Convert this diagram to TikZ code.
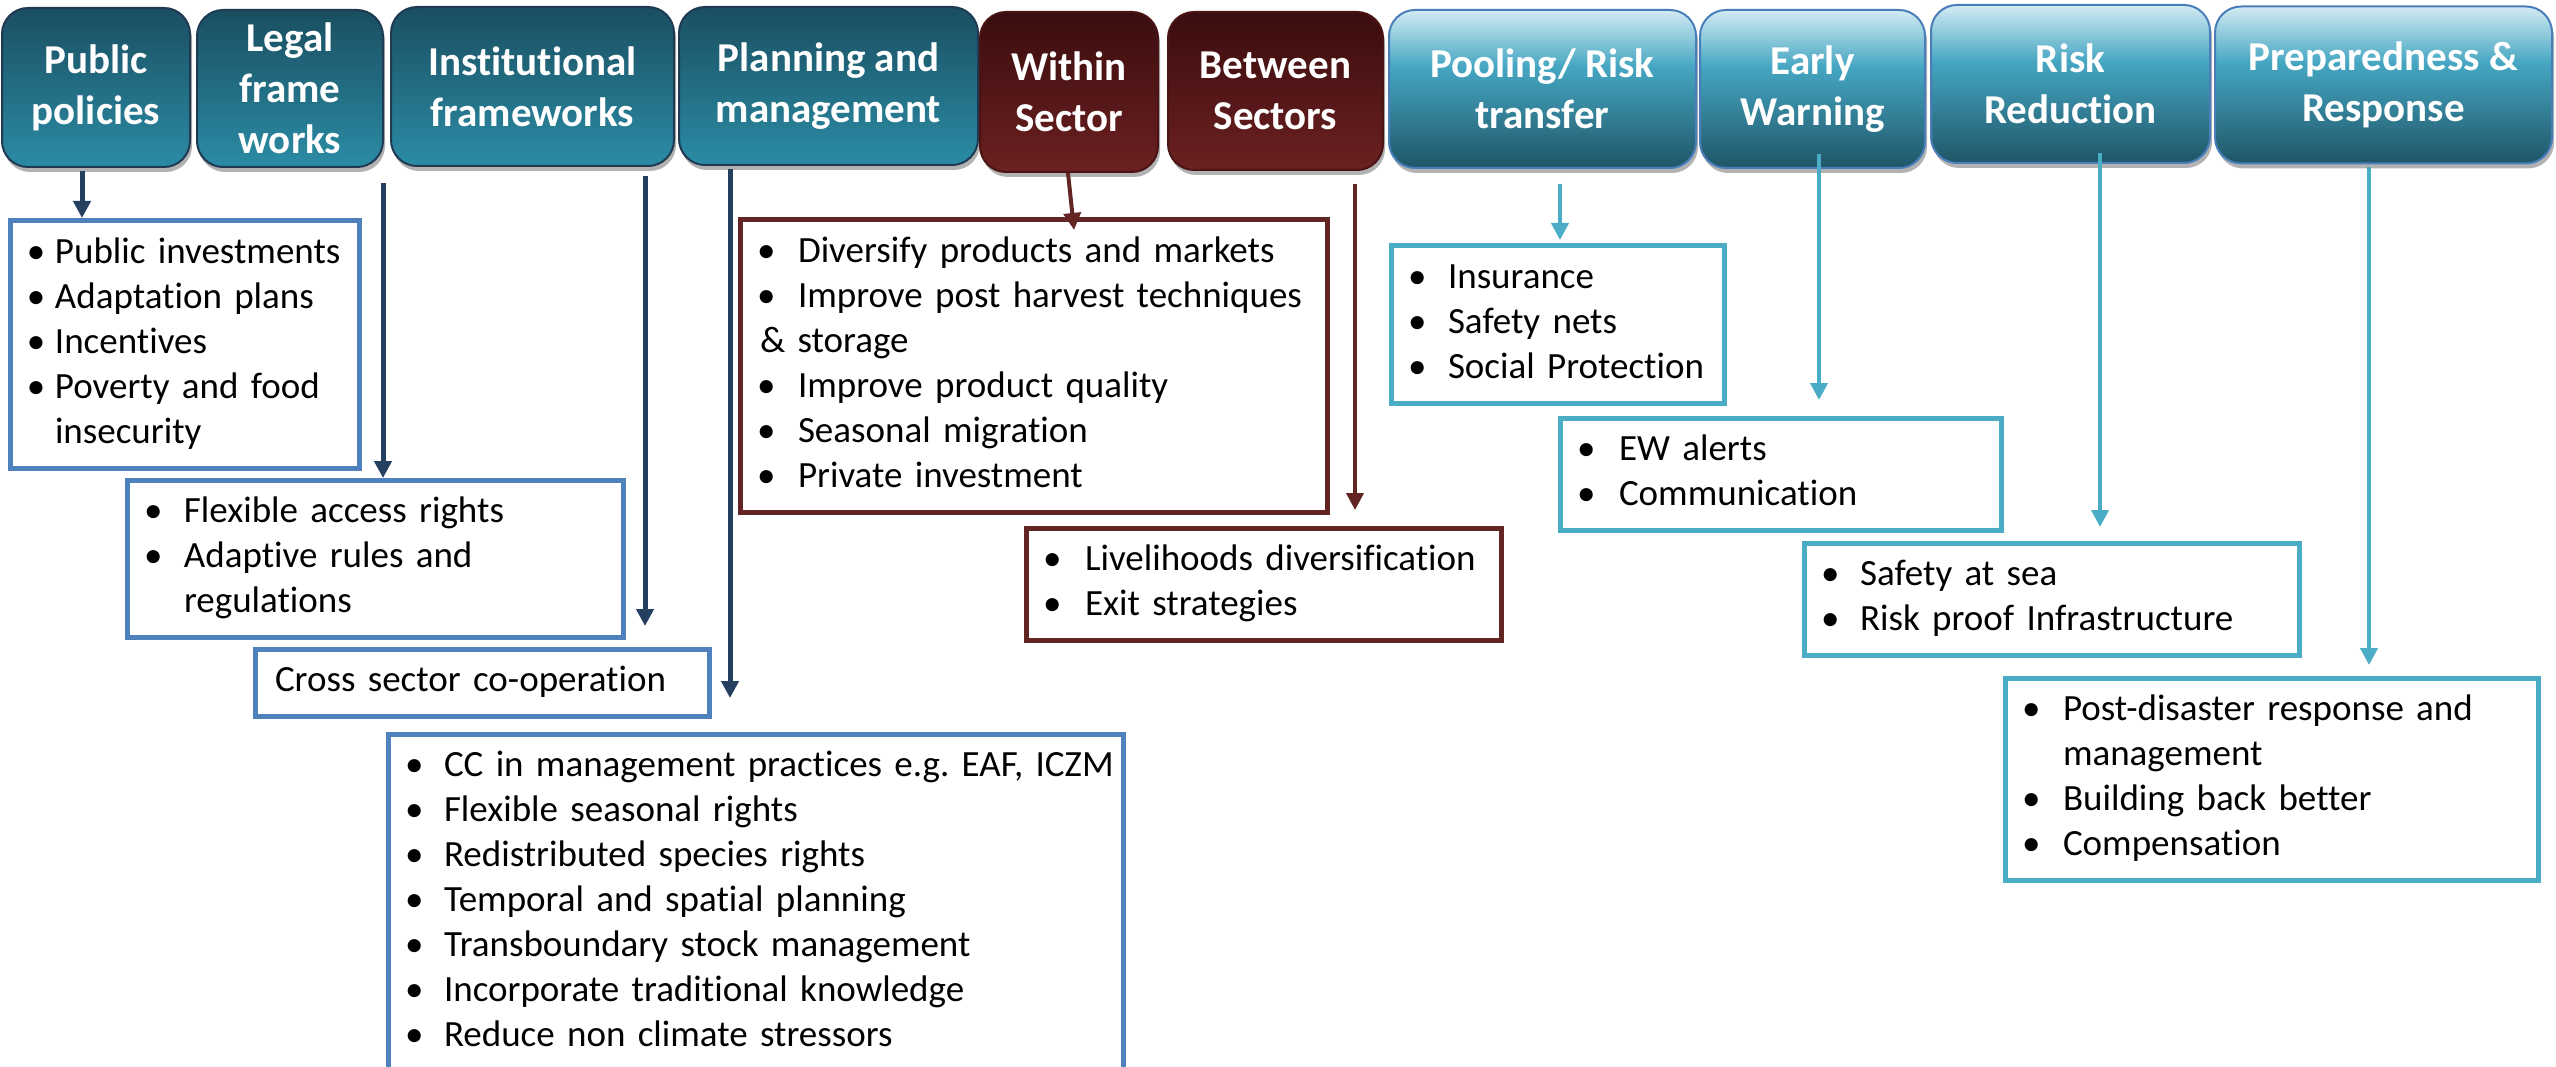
\documentclass[tikz,border=0pt]{standalone}
\usepackage{fontspec}
\setmainfont{Carlito}[Ligatures={NoCommon,NoRare}]
\frenchspacing
\usetikzlibrary{arrows.meta,shadows}
\definecolor{hdTop}{HTML}{1A4E61}
\definecolor{hdBot}{HTML}{2B8CA5}
\definecolor{hdLine}{HTML}{1F3A52}
\definecolor{rdTop}{HTML}{3A0D0E}
\definecolor{rdBot}{HTML}{6C2021}
\definecolor{rdLine}{HTML}{4A1414}
\definecolor{ltTop}{HTML}{D3EBF3}
\definecolor{ltMid}{HTML}{45A6C2}
\definecolor{ltBot}{HTML}{1F5567}
\definecolor{ltLine}{HTML}{4A7EBB}
\definecolor{navy}{HTML}{243F60}
\definecolor{boxBlue}{HTML}{4F81BD}
\definecolor{wine}{HTML}{632523}
\definecolor{aqua}{HTML}{4BACC6}
\pgfdeclareverticalshading{ltshade}{100bp}{color(0bp)=(ltBot); color(25bp)=(ltBot); color(57bp)=(ltMid); color(75bp)=(ltTop); color(100bp)=(ltTop)}
% first item (continues the paragraph TikZ opens), later items
\newcommand\fitm[2]{\hangindent=#1\hangafter=1\makebox[#1][l]{\hspace{-3pt}•}\strut\mbox{#2}\strut}
\newcommand\itm[2]{\par\noindent\fitm{#1}{#2}}
\tikzset{
  hdrbase/.style={rounded corners=26pt, line width=2pt, text=white,
    font=\fontsize{41}{51}\selectfont\bfseries, align=center, inner sep=0pt,
    drop shadow={shadow xshift=2pt, shadow yshift=-5pt, opacity=0.3, fill=black}},
  tealhdr/.style={hdrbase, draw=hdLine, top color=hdTop, bottom color=hdBot},
  redhdr/.style={hdrbase, draw=rdLine, top color=rdTop, bottom color=rdBot},
  lighthdr/.style={hdrbase, draw=ltLine, shade, shading=ltshade},
  hsz/.style 2 args={minimum width=#1pt, minimum height=#2pt},
  lbox/.style={draw, line width=5pt, fill=white, anchor=north west, outer sep=0pt,
    inner xsep=20pt, inner ysep=11pt, font=\fontsize{37}{45}\selectfont, align=left},
  bluebox/.style={lbox, draw=boxBlue},
  redbox/.style={lbox, draw=wine},
  aquabox/.style={lbox, draw=aqua},
  arr/.style={line width=5pt, -{Triangle[length=17pt,width=17pt]}},
  navyarr/.style={arr, draw=navy},
  winearr/.style={arr, line width=4pt, draw=wine},
  aquaarr/.style={arr, line width=4pt, draw=aqua},
}
\begin{document}
\begin{tikzpicture}[x=1pt,y=-1pt]
\clip (0,0) rectangle (2556,1067);
\fill[white] (0,0) rectangle (2556,1067);
% headers
\node[tealhdr, hsz={188}{159}] (pubHdr) at (96,87.5) {Public\\policies};
\node[tealhdr, hsz={186}{157}] (legHdr) at (290,88.5) {Legal\\frame\\works};
\node[tealhdr, hsz={283}{159}] (insHdr) at (532.5,86.5) {Institutional\\frameworks};
\node[tealhdr, hsz={299}{158}] (plnHdr) at (828.5,86) {Planning and\\management};
\node[redhdr, hsz={178}{160}] (wthHdr) at (1069,92) {Within\\Sector};
\node[redhdr, hsz={215}{158}] (btwHdr) at (1275.5,91) {Between\\Sectors};
\node[lighthdr, hsz={307}{158}] (polHdr) at (1542.5,89) {Pooling/ Risk\\transfer};
\node[lighthdr, hsz={225}{158}] (ewHdr) at (1812.5,89) {Early\\Warning};
\node[lighthdr, hsz={279}{158}] (rrHdr) at (2070.5,84) {Risk\\Reduction};
\node[lighthdr, hsz={337}{157}] (prpHdr) at (2383.5,85) {Preparedness \&\\Response};
% boxes
\node[bluebox, text width=309pt] (pubBox) at (10,221) {%
\fitm{25pt}{Public investments}\itm{25pt}{Adaptation plans}\itm{25pt}{Incentives}%
\itm{25pt}{Poverty and food}\newline\mbox{\strut insecurity}\strut\par};
\node[bluebox, text width=456pt] (legBox) at (127,480) {%
\fitm{37pt}{Flexible access rights}\itm{37pt}{Adaptive rules and}\newline\mbox{\strut regulations}\strut\par};
\node[bluebox, text width=414pt] (insBox) at (255,649) {\strut Cross sector co-operation\strut\par};
\node[bluebox, text width=695pt] (plnBox) at (388,734) {%
\fitm{36pt}{CC in management practices e.g. EAF, ICZM}\itm{36pt}{Flexible seasonal rights}%
\itm{36pt}{Redistributed species rights}\itm{36pt}{Temporal and spatial planning}%
\itm{36pt}{Transboundary stock management}\itm{36pt}{Incorporate traditional knowledge}%
\itm{36pt}{Reduce non climate stressors}\par\vspace{40pt}};
\node[redbox, text width=547pt] (wthBox) at (740,220) {%
\fitm{38pt}{Diversify products and markets}\itm{38pt}{Improve post harvest techniques}%
\par\noindent\strut\& storage\strut
\itm{38pt}{Improve product quality}\itm{38pt}{Seasonal migration}\itm{38pt}{Private investment}\par};
\node[redbox, text width=435pt] (btwBox) at (1026,528) {%
\fitm{39pt}{Livelihoods diversification}\itm{39pt}{Exit strategies}\par};
\node[aquabox, text width=293pt] (polBox) at (1391,246) {%
\fitm{37pt}{Insurance}\itm{37pt}{Safety nets}\itm{37pt}{Social Protection}\par};
\node[aquabox, text width=401pt] (ewBox) at (1560,418) {%
\fitm{39pt}{EW alerts}\itm{39pt}{Communication}\par};
\node[aquabox, text width=455pt] (rrBox) at (1804,543) {%
\fitm{36pt}{Safety at sea}\itm{36pt}{Risk proof Infrastructure}\par};
\node[aquabox, text width=493pt] (prpBox) at (2005,678) {%
\fitm{38pt}{Post-disaster response and}\newline\mbox{\strut management}\strut
\itm{38pt}{Building back better}\itm{38pt}{Compensation}\par};
% arrow columns
\coordinate (pubX) at (82,0);
\coordinate (legX) at (383,0);
\coordinate (insX) at (645,0);
\coordinate (plnX) at (730,0);
\coordinate (wthA) at (1068,0);
\coordinate (wthB) at (1073,0);
\coordinate (btwX) at (1355,0);
\coordinate (polX) at (1560,0);
\coordinate (ewX) at (1819,0);
\coordinate (rrX) at (2100,0);
\coordinate (prpX) at (2369,0);
% connectors
\draw[navyarr, shorten <=3pt, shorten >=3pt] (pubHdr.south -| pubX) -- (pubBox.north -| pubX);
\draw[navyarr, shorten <=15pt, shorten >=2pt] (legHdr.south -| legX) -- (legBox.north -| legX);
\draw[navyarr, shorten <=9pt, shorten >=23pt] (insHdr.south -| insX) -- (insBox.north -| insX);
\draw[navyarr, shorten <=3pt, shorten >=36pt] (plnHdr.south -| plnX) -- (plnBox.north -| plnX);
\draw[winearr, shorten >=-10pt] (wthHdr.south -| wthA) -- (wthBox.north -| wthB);
\draw[winearr, shorten <=13pt, shorten >=18pt] (btwHdr.south -| btwX) -- (btwBox.north -| btwX);
\draw[aquaarr, shorten <=15pt, shorten >=6pt] (polHdr.south -| polX) -- (polBox.north -| polX);
\draw[aquaarr, shorten <=-15pt, shorten >=18pt] (ewHdr.south -| ewX) -- (ewBox.north -| ewX);
\draw[aquaarr, shorten <=-11pt, shorten >=16pt] (rrHdr.south -| rrX) -- (rrBox.north -| rrX);
\draw[aquaarr, shorten <=3pt, shorten >=13pt] (prpHdr.south -| prpX) -- (prpBox.north -| prpX);
\end{tikzpicture}
\end{document}
